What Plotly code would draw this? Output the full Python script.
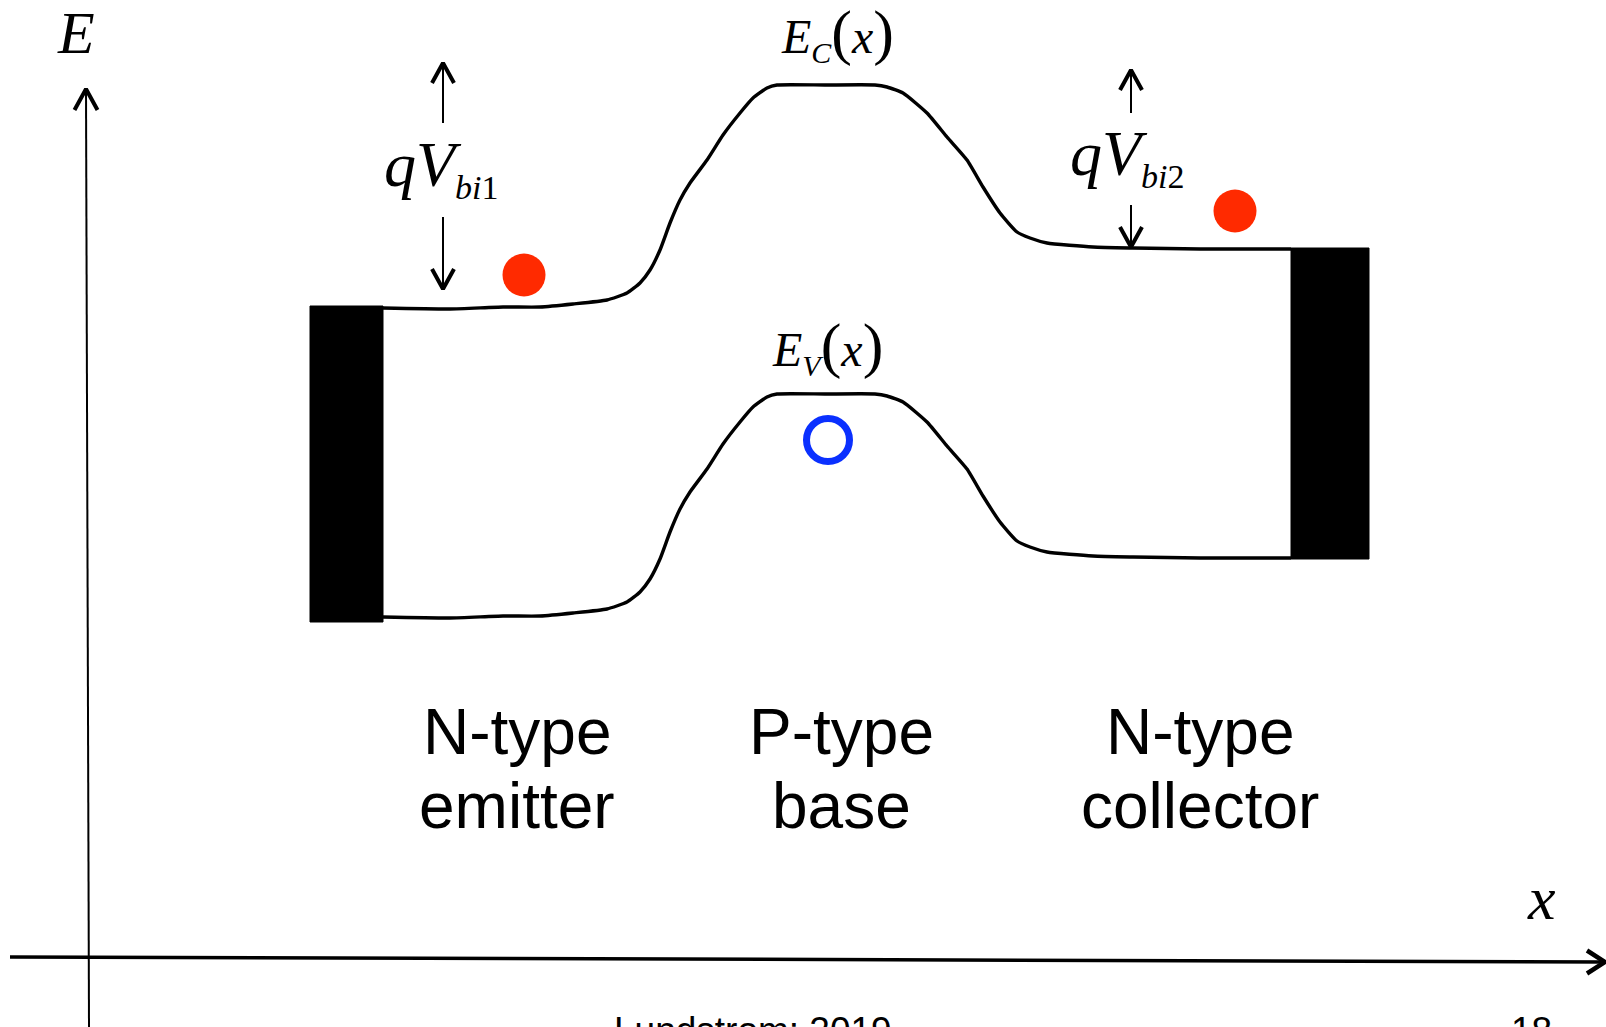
import plotly.graph_objects as go

# ---------------- data (position x, energy E in arbitrary units) ----------------
band_x = [296, 363, 416, 453, 486, 520, 540, 553, 563, 573, 583, 593, 603, 620, 636, 653, 666, 680, 690,
          738, 788, 800, 816, 840, 860, 880, 896, 913, 930, 943, 960, 1006, 1046, 1113, 1204]
ec_vals = [651, 650, 652, 652, 655, 659, 666, 676, 689, 709, 736, 759, 776, 799, 824, 846, 861, 871, 874,
           874, 874, 872, 866, 846, 822, 799, 772, 746, 727, 721, 716, 712, 711, 710, 710]
ev_vals = [342, 341, 343, 343, 346, 350, 357, 367, 380, 400, 427, 450, 467, 490, 515, 537, 552, 562, 565,
           565, 565, 563, 557, 537, 513, 490, 463, 437, 418, 412, 407, 403, 402, 401, 401]

emitter_contact_x = [223, 296]
emitter_contact_E = [337, 653]
collector_contact_x = [1204, 1282]
collector_contact_E = [400, 711]

electron_x = [437, 1148]
electron_E = [684, 748]
hole_x = [741]
hole_E = [519]

e_axis_x = [2, -1]
e_axis_E = [-68, 870]
x_axis_x = [-77, 1518]
x_axis_E = [2, -3]

qvbi1_x = 356
qvbi1_up = [836, 896]
qvbi1_down = [742, 670]
qvbi2_x = 1044
qvbi2_up = [846, 889]
qvbi2_down = [754, 712]

region_top = ["N-type", "P-type", "N-type"]
region_bottom = ["emitter", "base", "collector"]
region_x = [430, 754, 1113]

X_RANGE = [-87, 1519]
Y_RANGE = [-68, 959]

fig = go.Figure()

def line(xs, ys, width, color="black"):
    fig.add_trace(go.Scatter(x=xs, y=ys, mode="lines", line=dict(color=color, width=width),
                             hoverinfo="skip", showlegend=False))

def chevron(tx, ty, direction, half_w=11.5, length=20, width=4):
    if direction == "up":
        xs = [tx - half_w, tx, tx + half_w]; ys = [ty - length, ty, ty - length]
    elif direction == "down":
        xs = [tx - half_w, tx, tx + half_w]; ys = [ty + length, ty, ty + length]
    else:  # right
        xs = [tx - length, tx, tx - length]; ys = [ty + half_w, ty, ty - half_w]
    fig.add_trace(go.Scatter(x=xs, y=ys, mode="lines", line=dict(color="black", width=width),
                             hoverinfo="skip", showlegend=False))

def box(xr, yr):
    fig.add_trace(go.Scatter(x=[xr[0], xr[1], xr[1], xr[0], xr[0]],
                             y=[yr[0], yr[0], yr[1], yr[1], yr[0]],
                             mode="lines", fill="toself", fillcolor="black",
                             line=dict(color="black", width=1),
                             hoverinfo="skip", showlegend=False))

# axes
line(e_axis_x, e_axis_E, 2)
chevron(e_axis_x[1], e_axis_E[1], "up", 11.5, 21, 4)
line(x_axis_x, x_axis_E, 3.5)
chevron(x_axis_x[1], x_axis_E[1], "right", 11.5, 18, 4.5)

# bands
for vals in (ec_vals, ev_vals):
    fig.add_trace(go.Scatter(x=band_x, y=vals, mode="lines",
                             line=dict(color="black", width=3.4, shape="spline", smoothing=0.5),
                             hoverinfo="skip", showlegend=False))

# contacts
box(emitter_contact_x, emitter_contact_E)
box(collector_contact_x, collector_contact_E)

# built-in potential arrows
line([qvbi1_x, qvbi1_x], qvbi1_up, 2)
chevron(qvbi1_x, qvbi1_up[1], "up", 11, 20, 4)
line([qvbi1_x, qvbi1_x], qvbi1_down, 2)
chevron(qvbi1_x, qvbi1_down[1], "down", 11, 20, 4)
line([qvbi2_x, qvbi2_x], qvbi2_up, 2)
chevron(qvbi2_x, qvbi2_up[1], "up", 11, 20, 4)
line([qvbi2_x, qvbi2_x], qvbi2_down, 2)
chevron(qvbi2_x, qvbi2_down[1], "down", 11, 20, 4)

# carriers
fig.add_trace(go.Scatter(x=electron_x, y=electron_E, mode="markers",
                         marker=dict(symbol="circle", size=43, color="#ff2a00", line=dict(width=0)),
                         hoverinfo="skip", showlegend=False))
fig.add_trace(go.Scatter(x=hole_x, y=hole_E, mode="markers",
                         marker=dict(symbol="circle-open", size=43, color="#0a30ff",
                                     line=dict(width=7, color="#0a30ff")),
                         hoverinfo="skip", showlegend=False))

SERIF = "Liberation Serif"
SANS = "Liberation Sans"

def ann(x, y, text, size, family, xanchor="center", yanchor="middle"):
    fig.add_annotation(x=x, y=y, text=text, showarrow=False, xref="x", yref="y",
                       xanchor=xanchor, yanchor=yanchor,
                       font=dict(family=family, size=size, color="black"))

ann(-11, 926, "<i>E</i>", 60, SERIF)
ann(1454, 61, "<i>x</i>", 62, SERIF)
ann(750, 926, '<i>E</i><sub><span style="font-size:30px"><i>C</i></span></sub>'
    '<span style="font-size:62px">(</span><i>x</i><span style="font-size:62px">)</span>', 48, SERIF)
ann(740, 613, '<i>E</i><sub><span style="font-size:30px"><i>V</i></span></sub>'
    '<span style="font-size:62px">(</span><i>x</i><span style="font-size:62px">)</span>', 48, SERIF)
ann(354, 792, '<i>qV</i><sub><span style="font-size:34px"><i>bi</i>1</span></sub>', 64, SERIF)
ann(1040, 803, '<i>qV</i><sub><span style="font-size:34px"><i>bi</i>2</span></sub>', 64, SERIF)

for rx, t1, t2 in zip(region_x, region_top, region_bottom):
    ann(rx, 227, t1, 64, SANS)
    ann(rx, 153, t2, 64, SANS)

ann(666, -49, "Lundstrom: 2019", 37, SANS, yanchor="top")
ann(1444, -49, "18", 37, SANS, yanchor="top")

fig.update_layout(
    width=1606, height=1027,
    margin=dict(l=0, r=0, t=0, b=0),
    paper_bgcolor="white", plot_bgcolor="white",
    xaxis=dict(range=X_RANGE, visible=False, fixedrange=True),
    yaxis=dict(range=Y_RANGE, visible=False, fixedrange=True),
    showlegend=False,
)

fig.write_html("out.html", include_plotlyjs=True, full_html=True,
               config={"displayModeBar": False},
               post_script="document.body.style.margin='0';document.body.style.overflow='hidden';")
